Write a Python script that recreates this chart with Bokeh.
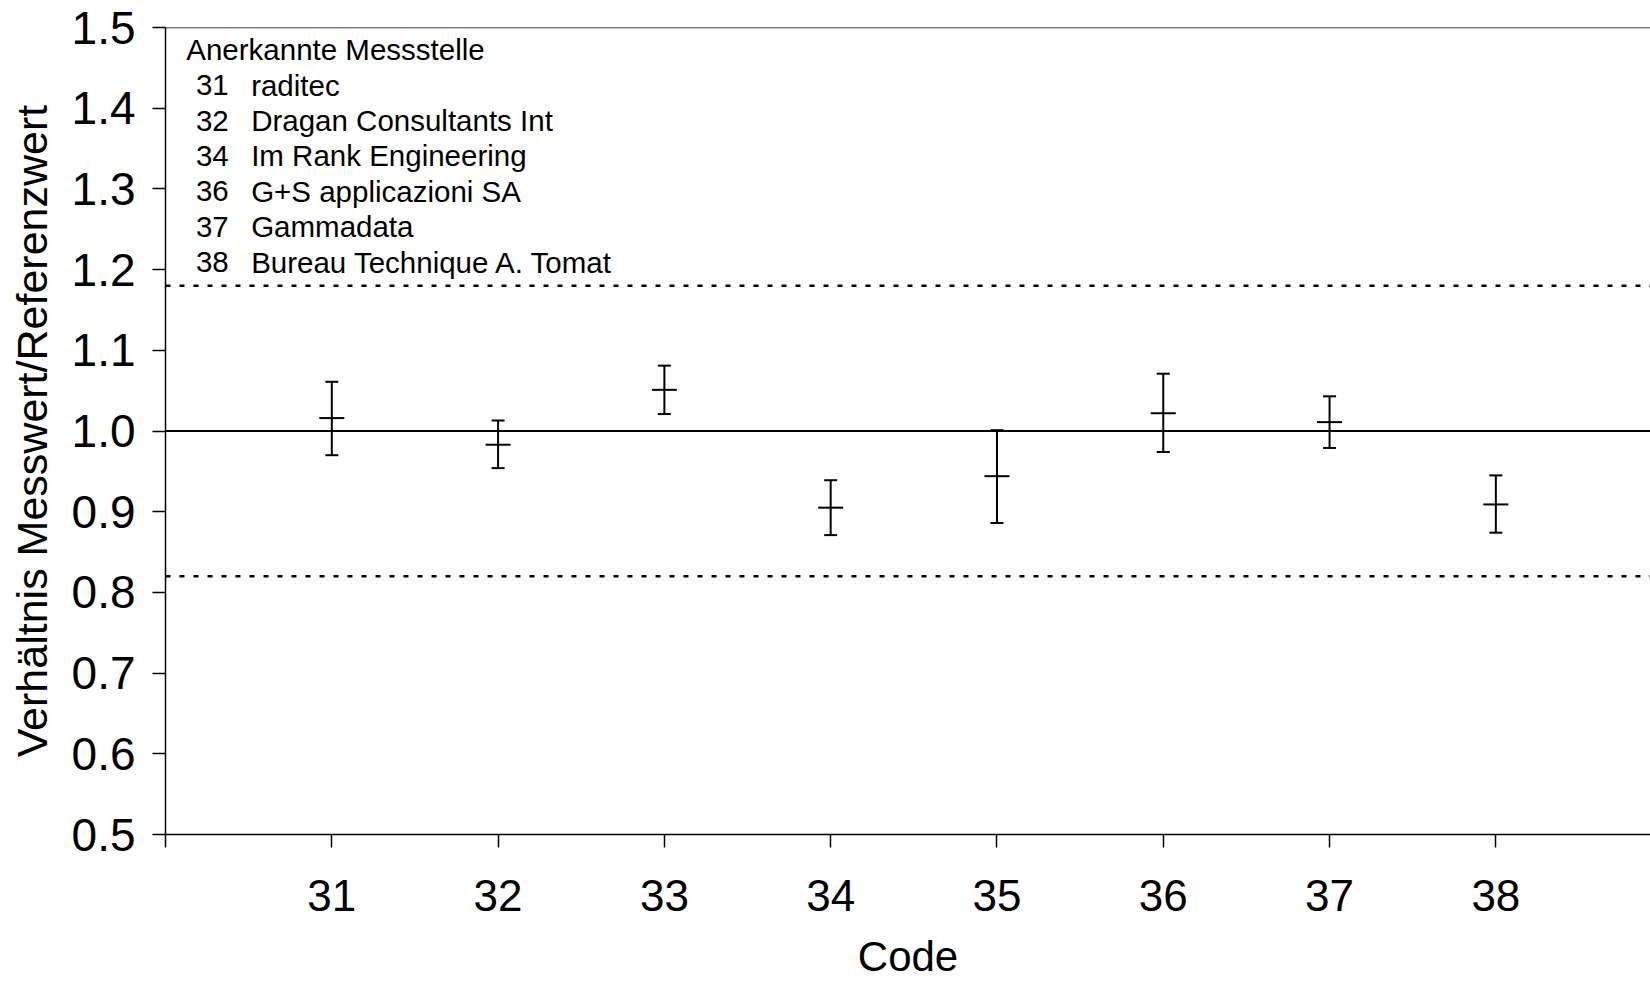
from bokeh.plotting import figure
from bokeh.models import Range1d, FixedTicker, Span, ColumnDataSource, PrintfTickFormatter
from bokeh.core.properties import value
from bokeh.embed import file_html
from bokeh.resources import INLINE

# ---- data ----
codes = [31, 32, 33, 34, 35, 36, 37, 38]
ratio = [1.016, 0.983, 1.051, 0.905, 0.944, 1.022, 1.011, 0.909]
ratio_upper = [1.061, 1.013, 1.081, 0.939, 1.001, 1.071, 1.043, 0.945]
ratio_lower = [0.970, 0.954, 1.021, 0.871, 0.886, 0.974, 0.979, 0.874]

reference_value = 1.0
limit_upper = 1.18
limit_lower = 0.82

x_ticks = [30, 31, 32, 33, 34, 35, 36, 37, 38, 39]
x_tick_labels = {30: "", 31: "31", 32: "32", 33: "33", 34: "34",
                 35: "35", 36: "36", 37: "37", 38: "38", 39: "39"}
y_ticks = [0.5, 0.6, 0.7, 0.8, 0.9, 1.0, 1.1, 1.2, 1.3, 1.4, 1.5]

legend_title = "Anerkannte  Messstelle"
legend_codes = ["31", "32", "34", "36", "37", "38"]
legend_names = ["raditec", "Dragan Consultants Int", "Im Rank Engineering",
                "G+S applicazioni SA", "Gammadata", "Bureau Technique A. Tomat"]

FONT = "Liberation Sans"

p = figure(width=1650, height=983,
           x_range=Range1d(30, 38.93), y_range=Range1d(0.5, 1.5),
           output_backend="svg", toolbar_location=None,
           min_border_left=165, min_border_top=27, min_border_right=0,
           min_border_bottom=149)
p.outline_line_color = None
p.xgrid.visible = False
p.ygrid.visible = False
p.background_fill_color = "white"
p.border_fill_color = "white"

# axes
p.xaxis.ticker = FixedTicker(ticks=x_ticks)
p.xaxis.major_label_overrides = x_tick_labels
p.yaxis.ticker = FixedTicker(ticks=y_ticks)
p.yaxis.formatter = PrintfTickFormatter(format="%.1f")
for ax in (p.xaxis, p.yaxis):
    ax.axis_line_color = "black"
    ax.axis_line_width = 1.5
    ax.major_tick_line_color = "black"
    ax.major_tick_line_width = 1.5
    ax.major_tick_in = 0
    ax.major_tick_out = 13
    ax.minor_tick_line_color = None
    ax.major_label_text_font = FONT
    ax.major_label_text_color = "black"
    ax.axis_label_text_font = FONT
    ax.axis_label_text_font_style = "normal"
    ax.axis_label_text_color = "black"

p.xaxis.major_label_text_font_size = "44px"
p.yaxis.major_label_text_font_size = "46px"
p.xaxis.major_label_standoff = 32
p.yaxis.major_label_standoff = 17
p.xaxis.axis_label = "Code"
p.yaxis.axis_label = "Verhältnis Messwert/Referenzwert"
p.xaxis.axis_label_text_font_size = "42px"
p.yaxis.axis_label_text_font_size = "43px"
p.xaxis.axis_label_standoff = 19
p.yaxis.axis_label_standoff = 13

# reference lines
p.add_layout(Span(location=y_ticks[-1], dimension="width", line_color="black", line_width=1.5))
p.add_layout(Span(location=reference_value, dimension="width", line_color="black", line_width=2))
p.add_layout(Span(location=limit_upper, dimension="width", line_color="black",
                  line_width=2.5, line_dash="5 9"))
p.add_layout(Span(location=limit_lower, dimension="width", line_color="black",
                  line_width=2.5, line_dash="5 9"))

# error bars
src = ColumnDataSource(dict(x=codes, y=ratio, lo=ratio_lower, hi=ratio_upper))
p.segment(x0="x", y0="lo", x1="x", y1="hi", source=src, line_color="black", line_width=2)
p.scatter(x="x", y="hi", source=src, marker="dash", size=13, line_color="black", line_width=2)
p.scatter(x="x", y="lo", source=src, marker="dash", size=13, line_color="black", line_width=2)
p.scatter(x="x", y="y", source=src, marker="dash", size=25, line_color="black", line_width=2)

# legend text block
row_top = 1.4286
row_step = 0.0439
rows_y = [row_top - i * row_step for i in range(len(legend_codes))]
leg = ColumnDataSource(dict(code=legend_codes, name=legend_names, y=rows_y,
                            xc=[30.183] * len(legend_codes), xn=[30.515] * len(legend_codes)))
p.text(x=[30.125], y=[1.4726], text=[legend_title], text_font=value(FONT),
       text_font_size="29.5px", text_baseline="middle", text_align="left", text_color="black")
p.text(x="xc", y="y", text="code", source=leg, text_font=value(FONT),
       text_font_size="29.5px", text_baseline="middle", text_align="left", text_color="black")
p.text(x="xn", y="y", text="name", source=leg, text_font=value(FONT),
       text_font_size="29.5px", text_baseline="middle", text_align="left", text_color="black")

open("out.html", "w").write(file_html(p, INLINE))
